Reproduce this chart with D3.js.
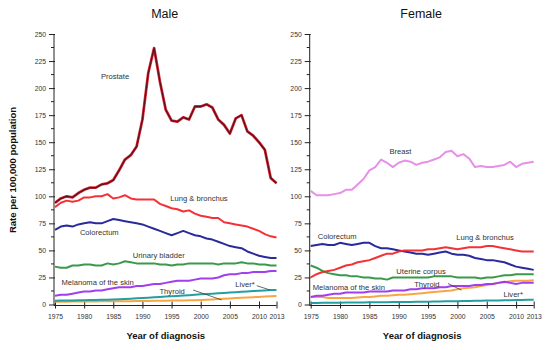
<!DOCTYPE html>
<html>
<head>
<meta charset="utf-8">
<script src="https://cdn.jsdelivr.net/npm/d3@7"></script>
<style>
  html, body { margin: 0; padding: 0; background: #fff; }
  svg { font-family: "Liberation Sans", Arial, sans-serif; display: block; }
</style>
</head>
<body>
<svg width="550" height="350"></svg>
<script>
// Years 1975-2013
const years = d3.range(1975, 2014);
const xTicks = [1975, 1980, 1985, 1990, 1995, 2000, 2005, 2010, 2013];
const yTicks = [0, 25, 50, 75, 100, 125, 150, 175, 200, 225, 250];

// Male rates per 100,000
const maleProstate = [94, 98, 100, 99, 103, 106, 108, 108, 111, 112, 115, 124, 134, 138, 146, 171, 214, 237, 206, 180,
  170, 169, 173, 171, 183, 183, 185, 182, 171, 166, 158, 172, 175, 160, 156, 150, 143, 117, 112];
const maleLung = [90, 94, 96, 95, 96, 99, 99, 100, 100, 102, 98, 99, 101, 98, 97, 97, 97, 97, 93, 91,
  89, 88, 86, 87, 84, 82, 81, 80, 80, 76, 75, 74, 73, 72, 70, 68, 65, 63, 62];
const maleColorectum = [69, 72, 73, 72, 74, 75, 76, 75, 75, 77, 79, 78, 77, 76, 75, 74, 72, 70, 68, 66,
  64, 66, 68, 66, 64, 63, 61, 60, 58, 56, 54, 53, 52, 49, 47, 45, 44, 43, 43];
const maleBladder = [35, 34, 34, 36, 36, 37, 37, 36, 36, 38, 37, 38, 40, 39, 38, 38, 38, 38, 37, 37,
  36, 37, 37, 38, 38, 38, 38, 38, 37, 38, 38, 38, 39, 38, 38, 37, 37, 36, 36];
const maleMelanoma = [8, 9, 9, 10, 11, 12, 12, 13, 13, 14, 15, 16, 16, 16, 17, 17, 18, 19, 19, 20,
  21, 22, 22, 22, 23, 24, 24, 24, 25, 27, 28, 28, 29, 29, 30, 30, 30, 31, 31];
const maleLiver = [3.5, 3.6, 3.7, 3.8, 3.9, 4.0, 4.1, 4.2, 4.3, 4.5, 4.7, 4.9, 5.1, 5.4, 5.7, 6.0, 6.3, 6.7, 7.0, 7.3,
  7.6, 7.9, 8.3, 8.6, 9.0, 9.4, 9.7, 10.0, 10.4, 10.7, 11.0, 11.4, 11.8, 12.1, 12.4, 12.8, 13.0, 13.3, 13.5];
const maleThyroid = [2.5, 2.6, 2.6, 2.7, 2.7, 2.8, 2.8, 2.8, 2.9, 2.9, 3.0, 3.0, 3.1, 3.1, 3.2, 3.3, 3.3, 3.4, 3.4, 3.5,
  3.6, 3.7, 3.8, 3.9, 4.0, 4.2, 4.4, 4.7, 5.0, 5.3, 5.6, 5.9, 6.2, 6.5, 6.8, 7.0, 7.3, 7.6, 7.9];

// Female rates per 100,000
const femaleBreast = [105, 101, 101, 101, 102, 103, 106, 106, 111, 116, 124, 127, 134, 131, 127, 131, 133, 132, 129, 131,
  132, 134, 136, 141, 142, 137, 139, 135, 127, 128, 127, 127, 128, 129, 132, 127, 130, 131, 132];
const femaleLung = [25, 28, 30, 31, 32, 34, 36, 37, 39, 40, 41, 43, 45, 47, 47, 49, 50, 50, 50, 50,
  51, 51, 52, 53, 52, 51, 52, 53, 53, 53, 54, 54, 53, 52, 51, 50, 49, 49, 49];
const femaleColorectum = [54, 55, 56, 55, 55, 57, 56, 55, 56, 57, 57, 54, 52, 52, 51, 50, 49, 48, 47, 47,
  46, 47, 48, 49, 47, 46, 46, 45, 43, 42, 41, 41, 40, 39, 37, 35, 34, 33, 32];
const femaleUterine = [36, 34, 31, 29, 28, 27, 27, 26, 26, 25, 25, 24, 24, 23, 25, 25, 25, 25, 25, 25,
  25, 26, 26, 26, 26, 25, 25, 25, 25, 24, 25, 25, 26, 27, 27, 28, 28, 28, 28];
const femaleMelanoma = [7, 8, 8, 9, 10, 10, 11, 11, 11, 11, 12, 12, 12, 12, 13, 13, 13, 14, 14, 15,
  15, 15, 16, 16, 17, 17, 17, 17, 18, 18, 19, 19, 20, 21, 20, 19, 20, 20, 20];
const femaleThyroid = [7, 7, 7, 6, 6, 6, 6, 6, 6.5, 7, 7, 7.5, 8, 8, 8.5, 9, 9, 9.5, 10, 10.5,
  11, 11.5, 12, 12.5, 13, 14, 15, 15.5, 16, 17, 18, 19, 20, 20.5, 21.5, 22, 22, 22, 22.5];
const femaleLiver = [1.5, 1.5, 1.6, 1.6, 1.7, 1.7, 1.8, 1.8, 1.9, 1.9, 2.0, 2.0, 2.1, 2.1, 2.2, 2.3, 2.3, 2.4, 2.5, 2.5,
  2.6, 2.7, 2.8, 2.9, 3.0, 3.1, 3.2, 3.3, 3.4, 3.5, 3.6, 3.7, 3.8, 3.9, 4.0, 4.1, 4.2, 4.4, 4.5];

const colors = {
  prostate: "#5e0f1c", lung: "#f2262c", colorectum: "#1f1f96", green: "#2f9440",
  melanoma: "#9a35ef", liver: "#19999a", thyroid: "#f6a23a", breast: "#e68ae6"
};

const panels = [
  {
    title: "Male", left: 55, right: 276.5,
    series: [
      { values: maleThyroid, color: colors.thyroid },
      { values: maleLiver, color: colors.liver },
      { values: maleMelanoma, color: colors.melanoma },
      { values: maleBladder, color: colors.green },
      { values: maleColorectum, color: colors.colorectum },
      { values: maleLung, color: colors.lung },
      { values: maleProstate, color: colors.prostate, halo: "#e8303a" }
    ],
    labels: [
      { text: "Prostate", x: 1985.3, y: 211 },
      { text: "Lung & bronchus", x: 1999.7, y: 98.3 },
      { text: "Colorectum", x: 1982.6, y: 66.9 },
      { text: "Urinary bladder", x: 1992.8, y: 45.2 },
      { text: "Melanoma of the skin", x: 1982.3, y: 20.6 },
      { text: "Thyroid", x: 1995.1, y: 11.9, arrow: [1998.7, 13.4, 2003.6, 4.2] },
      { text: "Liver*", x: 2007.6, y: 19, arrow: [2009.6, 17.4, 2011.9, 13.4] }
    ]
  },
  {
    title: "Female", left: 310.7, right: 533.7,
    series: [
      { values: femaleLiver, color: colors.liver },
      { values: femaleThyroid, color: colors.thyroid },
      { values: femaleMelanoma, color: colors.melanoma },
      { values: femaleUterine, color: colors.green },
      { values: femaleColorectum, color: colors.colorectum },
      { values: femaleLung, color: colors.lung },
      { values: femaleBreast, color: colors.breast }
    ],
    labels: [
      { text: "Breast", x: 1990.3, y: 141.3 },
      { text: "Colorectum", x: 1979.5, y: 63.2 },
      { text: "Lung & bronchus", x: 2004.7, y: 61.7 },
      { text: "Uterine corpus", x: 1993.8, y: 30.2 },
      { text: "Thyroid", x: 1994.8, y: 18.5, arrow: [1998.4, 19.4, 2000.7, 13.2] },
      { text: "Melanoma of the skin", x: 1981.5, y: 15.4 },
      { text: "Liver*", x: 2009.5, y: 9.3 }
    ]
  }
];

const svg = d3.select("svg");
const y = d3.scaleLinear().domain([0, 250]).range([304.5, 34]);

// Shared y-axis title
svg.append("text")
  .attr("transform", "translate(16,170) rotate(-90)")
  .attr("text-anchor", "middle")
  .attr("font-size", 9.5)
  .attr("font-weight", "bold")
  .attr("fill", "#111")
  .text("Rate per 100,000 population");

panels.forEach(p => {
  const x = d3.scaleLinear().domain([1975, 2013]).range([p.left, p.right]);
  const g = svg.append("g");
  const cx = (p.left + p.right) / 2;

  g.append("text")
    .attr("x", cx - 1).attr("y", 18)
    .attr("text-anchor", "middle")
    .attr("font-size", 12.5)
    .attr("fill", "#111")
    .text(p.title);

  g.append("text")
    .attr("x", cx).attr("y", 339)
    .attr("text-anchor", "middle")
    .attr("font-size", 9.5)
    .attr("font-weight", "bold")
    .attr("fill", "#111")
    .text("Year of diagnosis");

  // y axis with minor ticks
  const yAxis = g.append("g").attr("transform", `translate(${p.left - 1},0)`)
    .call(d3.axisLeft(y).tickValues(yTicks).tickSize(5).tickPadding(3));
  yAxis.select(".domain").attr("stroke", "#222").attr("d", `M0,${y(0) + 1}V${y(250)}`);
  yAxis.selectAll(".tick line").attr("stroke", "#222").attr("x2", -5).attr("x1", 1);
  yAxis.selectAll(".tick text").attr("font-size", 6.8).attr("fill", "#333")
    .attr("font-family", "Liberation Sans, Arial, sans-serif");
  yAxis.selectAll(".minor").data(d3.range(12.5, 250, 25)).join("line")
    .attr("x1", -3).attr("x2", 0)
    .attr("y1", d => y(d)).attr("y2", d => y(d))
    .attr("stroke", "#222");

  // x axis
  const xAxis = g.append("g").attr("transform", `translate(0,${y(0) + 1})`)
    .call(d3.axisBottom(x).tickValues(xTicks).tickFormat(d3.format("d")).tickSize(3).tickPadding(6));
  xAxis.select(".domain").attr("stroke", "#222").attr("d", `M${p.left - 1},0H${p.right}`);
  xAxis.selectAll(".tick line").attr("stroke", "#222").attr("y1", -4).attr("y2", 3);
  xAxis.selectAll(".tick text").attr("font-size", 6.8).attr("fill", "#333")
    .attr("font-family", "Liberation Sans, Arial, sans-serif");

  const line = d3.line()
    .x((d, i) => x(years[i]))
    .y(d => y(d));

  p.series.forEach(s => {
    if (s.halo) {
      g.append("path").attr("d", line(s.values))
        .attr("fill", "none").attr("stroke", s.halo)
        .attr("stroke-width", 2.8).attr("stroke-linejoin", "round");
    }
    g.append("path").attr("d", line(s.values))
      .attr("fill", "none").attr("stroke", s.color)
      .attr("stroke-opacity", 0.95)
      .attr("stroke-width", s.halo ? 1.5 : 2)
      .attr("stroke-linejoin", "round");
  });

  p.labels.forEach(l => {
    g.append("text")
      .attr("x", x(l.x)).attr("y", y(l.y) + 2.6)
      .attr("text-anchor", "middle")
      .attr("font-size", 7.6)
      .attr("fill", "#333")
      .text(l.text);
    if (l.arrow) {
      g.append("line")
        .attr("x1", x(l.arrow[0])).attr("y1", y(l.arrow[1]))
        .attr("x2", x(l.arrow[2])).attr("y2", y(l.arrow[3]))
        .attr("stroke", "#444").attr("stroke-width", 0.8);
    }
  });
});
</script>
</body>
</html>
